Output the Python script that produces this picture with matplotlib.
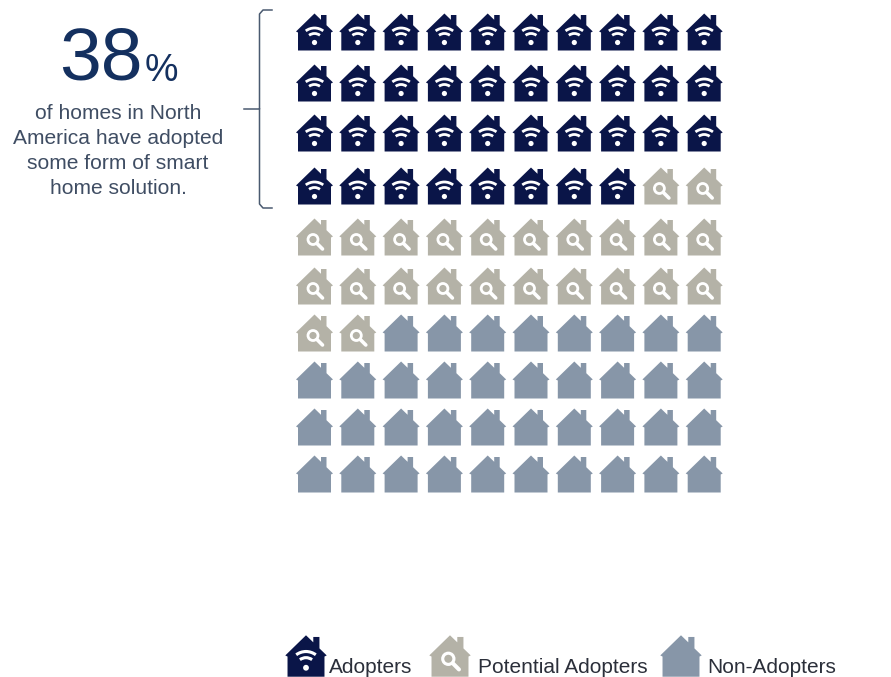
import matplotlib
matplotlib.use("Agg")
import matplotlib.pyplot as plt
import numpy as np
from matplotlib.path import Path
from matplotlib.patches import PathPatch, Circle, Arc
from matplotlib.transforms import Affine2D

plt.rcParams['font.family'] = ['Liberation Sans', 'DejaVu Sans']

# Homes out of 100 in each group
categories = ["Adopters", "Potential Adopters", "Non-Adopters"]
home_counts = [38, 24, 38]
headline_value = "38"
headline_text = ["of homes in North", "America have adopted",
                 "some form of smart", "home solution."]

COLOURS = {"Adopters": "#0A1548", "Potential Adopters": "#B4B2A7", "Non-Adopters": "#8796A8"}
COLUMNS = 10
COL_X0, COL_STEP = 314.5, 43.3
ROW_Y = [32, 83, 133, 186, 237, 286, 333, 380, 427, 474]

fig = plt.figure(figsize=(8.91, 6.77), dpi=100)
ax = fig.add_axes([0, 0, 1, 1])
ax.set_xlim(0, 891)
ax.set_ylim(677, 0)
ax.axis("off")

# House outline in icon units, origin at the centre, y pointing down
HOUSE = Path(
    [(-18.5, -0.5), (0, -18.5), (6.5, -12.2), (6.5, -17), (12, -17), (12, -6.8), (18.5, -0.5),
     (16.5, 0.5), (16.5, 18.5), (-16.5, 18.5), (-16.5, 0.5), (-18.5, -0.5)],
    [Path.MOVETO] + [Path.LINETO] * 10 + [Path.CLOSEPOLY],
)


def place(cx, cy, s):
    return Affine2D().scale(s).translate(cx, cy) + ax.transData


def draw_house(cx, cy, kind, s=1.0):
    tr = place(cx, cy, s)
    ax.add_patch(PathPatch(HOUSE, fc=COLOURS[kind], ec="none", transform=tr))
    if kind == "Adopters":
        # Wi-Fi symbol: dot and two arcs
        ax.add_patch(Circle((0, 10.5), 2.6, fc="white", ec="none", transform=tr))
        for d in (18, 29):
            ax.add_patch(Arc((0, 10.5), d, d, theta1=-127, theta2=-53, ec="white", lw=2.0 * s,
                             transform=tr))
    elif kind == "Potential Adopters":
        # Magnifying glass: ring and handle
        ax.add_patch(Circle((-1.5, 2.5), 5.0, fc="none", ec="white", lw=2.0 * s, transform=tr))
        ax.plot([2.5, 8], [6.5, 12], color="white", lw=2.6 * s, solid_capstyle="round", transform=tr)


# Waffle grid: one icon per home, filled row by row
kinds = np.repeat(categories, home_counts)
for i, kind in enumerate(kinds):
    row, col = divmod(i, COLUMNS)
    draw_house(COL_X0 + col * COL_STEP, ROW_Y[row], kind)

# Bracket gathering the adopter rows
ax.plot([272, 263, 259.5, 259.5, 244], [10, 10, 14, 109, 109], color="#4A5A70", lw=1.1)
ax.plot([259.5, 259.5, 263, 272], [109, 204, 208, 208], color="#4A5A70", lw=1.1)

# Headline
ax.text(59, 80, headline_value, fontsize=54, color="#14305F", ha="left", va="baseline")
ax.text(145, 81, "%", fontsize=27, color="#14305F", ha="left", va="baseline")
for line, y in zip(headline_text, [119, 144, 169, 194]):
    ax.text(118, y, line, fontsize=15.1, color="#3F4D63", ha="center", va="baseline")

# Legend
for kind, hx, tx in zip(categories, [306, 450, 681], [329, 478, 707]):
    draw_house(hx, 656, kind, s=1.12)
    ax.text(tx, 673, kind, fontsize=15, color="#2B2F3A", ha="left", va="baseline")

fig.savefig("out.png", dpi=100, facecolor="white")
